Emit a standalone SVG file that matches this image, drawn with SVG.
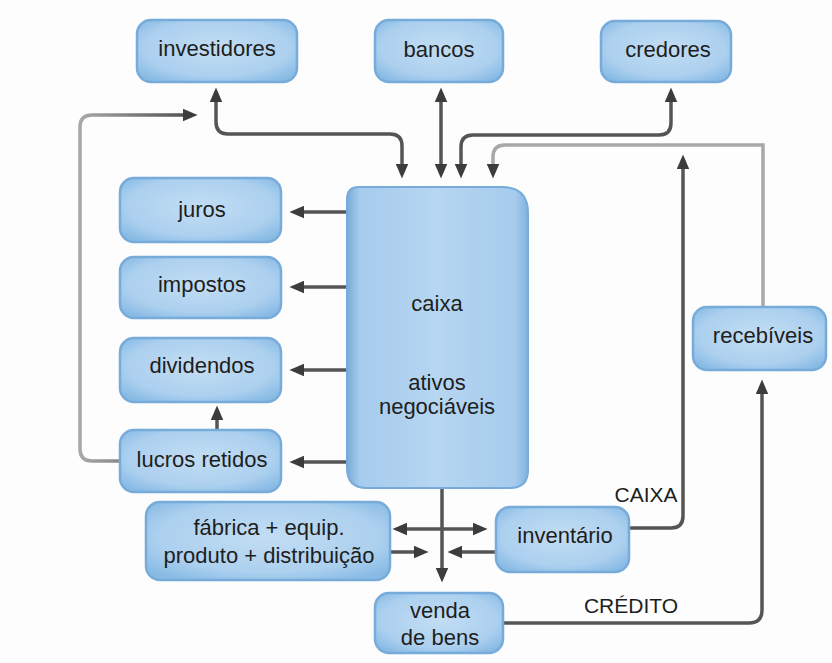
<svg xmlns="http://www.w3.org/2000/svg" width="832" height="663" viewBox="0 0 832 663">
  <defs>
    <radialGradient id="boxFill" cx="50%" cy="45%" r="65%">
      <stop offset="0%" stop-color="#c2ddf3"/>
      <stop offset="70%" stop-color="#acd0ef"/>
      <stop offset="100%" stop-color="#88bae4"/>
    </radialGradient>
    <linearGradient id="cashFill" x1="0" y1="0" x2="1" y2="0">
      <stop offset="0%" stop-color="#78abd9"/>
      <stop offset="7%" stop-color="#a6cbed"/>
      <stop offset="50%" stop-color="#b6d6f1"/>
      <stop offset="93%" stop-color="#a6cbed"/>
      <stop offset="100%" stop-color="#7fb2de"/>
    </linearGradient>
    <linearGradient id="loopStroke" gradientUnits="userSpaceOnUse" x1="80" y1="0" x2="197" y2="0">
      <stop offset="0%" stop-color="#a8a8a8"/>
      <stop offset="100%" stop-color="#4a4a4a"/>
    </linearGradient>
    <marker id="head" viewBox="0 0 14 12" markerWidth="15" markerHeight="13" refX="6" refY="6" orient="auto-start-reverse" markerUnits="userSpaceOnUse">
      <path d="M0,0 L14,6 L0,12 z" fill="#3c3c3c"/>
    </marker>
  </defs>
  <style>
    .box { fill: url(#boxFill); stroke: #76abda; stroke-width: 2.5; }
    .lbl { font-family: "Liberation Sans", Arial, sans-serif; font-size: 22px; fill: #1e1e1e; text-anchor: middle; }
    .note { font-family: "Liberation Sans", Arial, sans-serif; font-size: 21px; fill: #1e1e1e; text-anchor: middle; }
    .arr { fill: none; stroke: #555; stroke-width: 3.5; }
    .arr.end { marker-end: url(#head); }
    .arr.both { marker-start: url(#head); marker-end: url(#head); }
    .faint { stroke: #a8a8a8; }
  </style>

  <rect width="832" height="663" fill="#fdfdfd"/>

  <!-- connectors -->
  <g id="connectors">
    <path class="arr end" stroke="url(#loopStroke)" style="stroke:url(#loopStroke)" d="M120,461 H92 Q80,461 80,449 V127 Q80,115 92,115 H189"/>
    <path class="arr both" d="M216,96 V122 Q216,134 228,134 H390 Q402,134 402,146 V170"/>
    <path class="arr both" d="M441,96 V170"/>
    <path class="arr both" d="M671,96 V123 Q671,135 659,135 H473 Q461,135 461,147 V170"/>
    <path class="arr end faint" d="M763,307 V145 H505 Q493,145 493,157 V170"/>
    <path class="arr end" d="M629,528 H671 Q683,528 683,516 V163"/>
    <path class="arr end" d="M503,623 H749 Q762,623 762,610 V388"/>
    <path class="arr end" d="M347,212 H298"/>
    <path class="arr end" d="M347,287 H298"/>
    <path class="arr end" d="M347,370 H298"/>
    <path class="arr end" d="M347,462 H298"/>
    <path class="arr end" d="M217,430 V414"/>
    <path class="arr end" d="M442,488 V574"/>
    <path class="arr both" d="M401,529 H479"/>
    <path class="arr end" d="M390,552 H420"/>
    <path class="arr end" d="M496,552 H456"/>
  </g>

  <!-- cash and marketable assets -->
  <g id="caixa">
    <path d="M359,187 H502 Q528,187 528,213 V470 Q528,488 510,488 H367 Q347,488 347,468 V199 Q347,187 359,187 z" fill="url(#cashFill)" stroke="#76abda" stroke-width="2"/>
    <text class="lbl" x="437" y="311">caixa</text>
    <text class="lbl" x="437" y="390">ativos</text>
    <text class="lbl" x="437" y="414">negociáveis</text>
  </g>

  <g id="investidores">
    <rect class="box" x="137" y="20" width="160" height="62" rx="14"/>
    <text class="lbl" x="217" y="56">investidores</text>
  </g>
  <g id="bancos">
    <rect class="box" x="375" y="20" width="128" height="62" rx="14"/>
    <text class="lbl" x="439" y="57">bancos</text>
  </g>
  <g id="credores">
    <rect class="box" x="601" y="21" width="130" height="61" rx="14"/>
    <text class="lbl" x="668" y="57">credores</text>
  </g>
  <g id="juros">
    <rect class="box" x="120" y="178" width="161" height="64" rx="14"/>
    <text class="lbl" x="202" y="217">juros</text>
  </g>
  <g id="impostos">
    <rect class="box" x="120" y="257" width="161" height="61" rx="14"/>
    <text class="lbl" x="202" y="292">impostos</text>
  </g>
  <g id="dividendos">
    <rect class="box" x="120" y="338" width="161" height="64" rx="14"/>
    <text class="lbl" x="202" y="373">dividendos</text>
  </g>
  <g id="lucros-retidos">
    <rect class="box" x="120" y="430" width="161" height="62" rx="14"/>
    <text class="lbl" x="202" y="467">lucros retidos</text>
  </g>
  <g id="fabrica">
    <rect class="box" x="146" y="502" width="244" height="78" rx="14"/>
    <text class="lbl" x="269" y="535">fábrica + equip.</text>
    <text class="lbl" x="269" y="563">produto + distribuição</text>
  </g>
  <g id="venda">
    <rect class="box" x="375" y="593" width="128" height="60" rx="14"/>
    <text class="lbl" x="440" y="618">venda</text>
    <text class="lbl" x="440" y="645">de bens</text>
  </g>
  <g id="inventario">
    <rect class="box" x="496" y="507" width="133" height="65" rx="14"/>
    <text class="lbl" x="565" y="543">inventário</text>
  </g>
  <g id="recebiveis">
    <rect class="box" x="693" y="307" width="133" height="63" rx="14"/>
    <text class="lbl" x="763" y="343">recebíveis</text>
  </g>

  <text class="note" x="646" y="502">CAIXA</text>
  <text class="note" x="631" y="613">CRÉDITO</text>
</svg>
